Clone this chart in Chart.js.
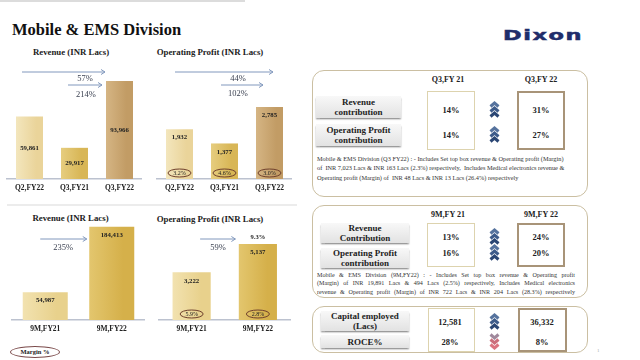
<!DOCTYPE html>
<html>
<head>
<meta charset="utf-8">
<script src="https://cdn.jsdelivr.net/npm/chart.js@4.4.1/dist/chart.umd.min.js"></script>
<style>
  body { margin: 0; background: #fff; }
  #page { position: relative; width: 640px; height: 360px; overflow: hidden; font-family: "Liberation Serif", serif; color: #222; }
  .abs { position: absolute; }
  .ttl { position: absolute; font-weight: bold; font-size: 8.8px; white-space: nowrap; transform: translate(-50%, -50%); color: #222; }
  .panel { position: absolute; border: 1.5px solid #cbbfa2; border-radius: 12px; box-sizing: border-box; }
  .lbl { position: absolute; box-sizing: border-box; background: linear-gradient(#f8f8f8, #e2e2e2); box-shadow: 0 1.5px 1.5px #9c9c9c; font-weight: bold; font-size: 9px; line-height: 10px; text-align: center; display: flex; flex-direction: column; justify-content: center; color: #222; }
  .vbox { position: absolute; box-sizing: border-box; }
  .old { border: 1.5px solid #ddd3ae; }
  .new { border: 2px solid #a89478; }
  .val { position: absolute; font-weight: bold; font-size: 8.5px; transform: translate(-50%, -50%); white-space: nowrap; }
  .head { position: absolute; font-weight: bold; font-size: 8px; transform: translate(-50%, -50%); white-space: nowrap; }
  .note { position: absolute; font-size: 6.3px; color: #333; white-space: nowrap; }
  .just { text-align: justify; text-align-last: justify; white-space: normal; font-size: 6.1px; }
</style>
</head>
<body>
<div id="page">
  <div class="abs" style="left:0;top:0;width:245px;height:2px;background:#dcdcdc"></div>
  <div class="abs" style="left:12px;top:20px;font-size:16.5px;font-weight:bold;color:#111;white-space:nowrap">Mobile &amp; EMS Division</div>
  <div class="abs" style="left:503px;top:27px;font-family:'DejaVu Sans',sans-serif;font-weight:bold;font-size:14.5px;letter-spacing:1px;color:#1f2d6b;transform:scaleX(1.55);transform-origin:left top;-webkit-text-stroke:0.5px #1f2d6b">Dixon</div>
  <div class="abs" style="left:7px;top:204px;width:290px;height:2px;background:#ececec"></div>

  <div class="ttl" style="left:71px;top:52px">Revenue (INR Lacs)</div>
  <div class="ttl" style="left:210px;top:52px">Operating Profit (INR Lacs)</div>
  <div class="ttl" style="left:70.5px;top:218px">Revenue (INR Lacs)</div>
  <div class="ttl" style="left:210px;top:219px">Operating Profit (INR Lacs)</div>

  <canvas id="c1" class="abs" width="142" height="140" style="left:0;top:60px"></canvas>
  <canvas id="c2" class="abs" width="142" height="140" style="left:150px;top:60px"></canvas>
  <canvas id="c3" class="abs" width="145" height="115" style="left:0;top:226px"></canvas>
  <canvas id="c4" class="abs" width="141" height="115" style="left:150px;top:226px"></canvas>

  <div class="abs" style="left:10px;top:346px;width:50px;height:12px;border:1px solid #7b4b4b;border-radius:50%;box-sizing:border-box;font-size:6.5px;font-weight:bold;text-align:center;line-height:10px">Margin %</div>
  <div class="abs" style="left:597px;top:348px;font-size:5px;color:#aaa">1</div>
</div>

<script>
// quarterly charts
const qLabels = ['Q2,FY22', 'Q3,FY21', 'Q3,FY22'];
const qRevenue = [59861, 29917, 93966];
const qOpProfit = [1932, 1377, 2785];
const qMargin = ['3.2%', '4.6%', '3.0%'];
const qRevGrowth = ['57%', '214%'];
const qOpGrowth = ['44%', '102%'];

// nine month charts
const nmLabels = ['9M,FY21', '9M,FY22'];
const nmRevenue = [54987, 184413];
const nmOpProfit = [3222, 5137];
const nmMargin = ['5.9%', '2.8%'];
const nmRevGrowth = '235%';
const nmOpGrowth = '59%';
const nmOpTopNote = '9.3%';

// contribution tables
const q3Head = ['Q3,FY 21', 'Q3,FY 22'];
const q3Rows = [['Revenue', 'contribution'], ['Operating Profit', 'contribution']];
const q3FY21 = ['14%', '14%'];
const q3FY22 = ['31%', '27%'];
const q3Note = [
    'Mobile & EMS Division (Q3 FY22) : - Includes Set top box revenue & Operating profit (Margin)',
    'of&nbsp; INR 7,023 Lacs & INR 163 Lacs (2.3%) respectively,&nbsp; Includes Medical electronics revenue &',
    'Operating profit (Margin) of&nbsp; INR 48 Lacs & INR 13 Lacs (26.4%) respectively'
];

const nmHead = ['9M,FY 21', '9M,FY 22'];
const nmRows = [['Revenue', 'Contribution'], ['Operating Profit', 'contribution']];
const nmFY21 = ['13%', '16%'];
const nmFY22 = ['24%', '20%'];
const nmNote = [
    'Mobile & EMS Division (9M,FY22) : - Includes Set top box revenue & Operating profit',
    '(Margin) of INR 19,891 Lacs & 494 Lacs (2.5%) respectively, Includes Medical electronics',
    'revenue & Operating profit (Margin) of INR 722 Lacs & INR 204 Lacs (28.3%) respectively'
];

const capRows = [['Capital employed', '(Lacs)'], ['ROCE%']];
const capFY21 = ['12,581', '28%'];
const capFY22 = ['36,332', '8%'];
const capTrend = ['up', 'down'];

const serif = '"Liberation Serif", serif';
const arrowColor = '#8198bd';

// soft left-to-right shading on each bar
function shaded(light, dark, barPct) {
    return function (c) {
        const chart = c.chart;
        const xs = chart.scales && chart.scales.x;
        if (!chart.chartArea || !xs) return dark[c.dataIndex];
        const x = xs.getPixelForValue(c.dataIndex);
        const w = chart.chartArea.width / chart.data.labels.length * barPct;
        const g = chart.ctx.createLinearGradient(x - w / 2, 0, x + w / 2, 0);
        g.addColorStop(0, light[c.dataIndex]);
        g.addColorStop(0.75, dark[c.dataIndex]);
        g.addColorStop(1, dark[c.dataIndex]);
        return g;
    };
}

const deco = {
    id: 'deco',
    afterDatasetsDraw(chart, args, opts) {
        const ctx = chart.ctx;
        const area = chart.chartArea;
        const bars = chart.getDatasetMeta(0).data;
        const values = chart.data.datasets[0].data;
        ctx.save();
        ctx.textAlign = 'center';
        ctx.textBaseline = 'middle';

        // values inside bars
        ctx.fillStyle = '#222';
        ctx.font = 'bold 6.8px ' + serif;
        bars.forEach((bar, i) => {
            const y = opts.valuePos === 'middle' ? (bar.y + bar.base) / 2 : bar.y + 8.5;
            ctx.fillText(values[i].toLocaleString('en-US'), bar.x, y);
        });

        // margin ovals
        (opts.margins || []).forEach((m, i) => {
            const bar = bars[i];
            const cy = bar.base - 6;
            ctx.beginPath();
            ctx.ellipse(bar.x, cy, 11.5, 4, 0, 0, Math.PI * 2);
            ctx.strokeStyle = '#6e3f2c';
            ctx.lineWidth = 1;
            ctx.stroke();
            ctx.font = '6px ' + serif;
            ctx.fillStyle = '#222';
            ctx.fillText(m, bar.x, cy + 0.5);
        });

        // growth arrows
        (opts.arrows || []).forEach(a => {
            const x0 = bars[a.from[0]].x + a.from[1];
            const x1 = bars[a.to[0]].x + a.to[1];
            const y = area.top + a.dy;
            ctx.strokeStyle = arrowColor;
            ctx.lineWidth = 1;
            ctx.beginPath();
            ctx.moveTo(x0, y);
            ctx.lineTo(x1, y);
            ctx.moveTo(x1 - 4, y - 2.5);
            ctx.lineTo(x1, y);
            ctx.lineTo(x1 - 4, y + 2.5);
            ctx.stroke();
            ctx.font = '8.5px ' + serif;
            ctx.fillStyle = '#3c4252';
            ctx.fillText(a.label, bars[a.at[0]].x + a.at[1], area.top + a.ldy);
        });

        if (opts.topNote) {
            const bar = bars[opts.topNote.bar];
            ctx.font = 'bold 6.5px ' + serif;
            ctx.fillStyle = '#222';
            ctx.fillText(opts.topNote.text, bar.x, bar.y - 7);
        }
        ctx.restore();
    }
};

function barChart(id, labels, values, light, dark, opt) {
    return new Chart(document.getElementById(id), {
        type: 'bar',
        data: {
            labels: labels,
            datasets: [{
                data: values,
                backgroundColor: shaded(light, dark, opt.barPct),
                barPercentage: opt.barPct,
                categoryPercentage: 1
            }]
        },
        options: {
            responsive: false,
            animation: false,
            layout: { padding: { left: opt.padLeft, right: 0, top: 0, bottom: 2 } },
            plugins: {
                legend: { display: false },
                tooltip: { enabled: false },
                deco: opt.deco
            },
            scales: {
                x: {
                    grid: { display: false, drawTicks: false },
                    border: { display: true, color: '#bcc2cf', width: 1.5 },
                    ticks: { color: '#222', padding: 5, font: { family: serif, size: 7.5, weight: 'bold' } }
                },
                y: { display: false, min: 0, max: opt.max }
            }
        },
        plugins: [deco]
    });
}

const qLight = ['#f3e6bd', '#e6cd7f', '#d5b584'];
const qDark = ['#ead49a', '#d8b656', '#c29c65'];
const nmLight = ['#f2e2b0', '#e3c66e'];
const nmDark = ['#e8d18c', '#d5b04a'];

barChart('c1', qLabels, qRevenue, qLight, qDark, {
    barPct: 0.6, padLeft: 7, max: 114200,
    deco: {
        valuePos: 'middle',
        arrows: [
            { from: [0, -7.5], to: [2, -14.5], dy: 12, label: qRevGrowth[0], at: [1, 10.5], ldy: 19 },
            { from: [1, -6.5], to: [2, -17.5], dy: 25, label: qRevGrowth[1], at: [1, 11.5], ldy: 35 }
        ]
    }
});

barChart('c2', qLabels, qOpProfit, qLight, qDark, {
    barPct: 0.6, padLeft: 7, max: 4610,
    deco: {
        valuePos: 'top',
        margins: qMargin,
        arrows: [
            { from: [0, -4.5], to: [2, 3.5], dy: 12, label: qOpGrowth[0], at: [1, 13.5], ldy: 19 },
            { from: [1, -3.5], to: [2, -6.5], dy: 25, label: qOpGrowth[1], at: [1, 13.5], ldy: 34 }
        ]
    }
});

barChart('c3', nmLabels, nmRevenue, nmLight, nmDark, {
    barPct: 0.677, padLeft: 12, max: 185700,
    deco: {
        valuePos: 'top',
        arrows: [
            { from: [0, -5], to: [1, -25], dy: 13, label: nmRevGrowth, at: [0, 18], ldy: 22 }
        ]
    }
});

barChart('c4', nmLabels, nmOpProfit, nmLight, nmDark, {
    barPct: 0.576, padLeft: 8.5, max: 6346,
    deco: {
        valuePos: 'top',
        margins: nmMargin,
        topNote: { bar: 1, text: nmOpTopNote },
        arrows: [
            { from: [0, 8.5], to: [1, -22.5], dy: 13, label: nmOpGrowth, at: [0, 26.5], ldy: 22 }
        ]
    }
});

// right hand tables
const page = document.getElementById('page');

function el(cls, style, html) {
    const d = document.createElement('div');
    d.className = cls;
    Object.assign(d.style, style);
    if (html !== undefined) d.innerHTML = html;
    page.appendChild(d);
    return d;
}

function chevrons(x, y, dir) {
    const up = dir === 'up';
    const cols = up ? ['#56739e', '#3d5b8a', '#2a4674'] : ['#a0889c', '#cc6e7b', '#dc7480'];
    let paths = '';
    for (let k = 0; k < 3; k++) {
        const o = k * 5;
        const pts = up ? `1.5,${o + 5.5} 5.5,${o + 2} 9.5,${o + 5.5}` : `1.5,${o + 1.5} 5.5,${o + 5} 9.5,${o + 1.5}`;
        paths += `<polyline points="${pts}" fill="none" stroke="${cols[k]}" stroke-width="3" stroke-linejoin="miter"/>`;
    }
    el('abs', { left: (x - 5.5) + 'px', top: (y - 9) + 'px' },
        `<svg width="11" height="18" viewBox="0 0 11 18">${paths}</svg>`);
}

function labelBox(x, y, w, h, lines) {
    el('lbl', { left: x + 'px', top: y + 'px', width: w + 'px', height: h + 'px' }, lines.join('<br>'));
}

// panel 1: Q3
el('panel', { left: '312px', top: '70px', width: '276px', height: '127px' });
q3Head.forEach((t, i) => el('head', { left: [448, 541][i] + 'px', top: '79px' }, t));
labelBox(316, 96, 85, 22, q3Rows[0]);
labelBox(316, 124, 85, 22, q3Rows[1]);
el('vbox old', { left: '427px', top: '91px', width: '48px', height: '59px' });
el('vbox new', { left: '517px', top: '91px', width: '48px', height: '59px' });
[110, 135].forEach((y, i) => {
    el('val', { left: '451px', top: y + 'px' }, q3FY21[i]);
    el('val', { left: '541px', top: y + 'px' }, q3FY22[i]);
    chevrons(494, y, 'up');
});
q3Note.forEach((line, i) => el('note', { left: '317px', top: (154.5 + i * 9.5) + 'px' }, line));

// panel 2: 9M
el('panel', { left: '312px', top: '205px', width: '276px', height: '93px' });
nmHead.forEach((t, i) => el('head', { left: [448, 541][i] + 'px', top: '214px' }, t));
labelBox(321, 223, 88, 20, nmRows[0]);
labelBox(321, 248, 88, 20, nmRows[1]);
el('vbox old', { left: '427px', top: '223px', width: '48px', height: '44px' });
el('vbox new', { left: '517px', top: '223px', width: '48px', height: '44px' });
[237, 253].forEach((y, i) => {
    el('val', { left: '451px', top: y + 'px' }, nmFY21[i]);
    el('val', { left: '541px', top: y + 'px' }, nmFY22[i]);
    chevrons(494, y, 'up');
});
nmNote.forEach((line, i) => el('note just', { left: '317px', top: (271.5 + i * 8.5) + 'px', width: '258px' }, line));

// panel 3: capital employed
el('panel', { left: '312px', top: '306px', width: '276px', height: '47px' });
labelBox(321, 311, 88, 20, capRows[0]);
labelBox(321, 335, 88, 13, capRows[1]);
el('vbox old', { left: '428px', top: '308px', width: '47px', height: '44px' });
el('vbox new', { left: '518px', top: '308px', width: '49px', height: '44px' });
[322, 342].forEach((y, i) => {
    el('val', { left: '450px', top: y + 'px' }, capFY21[i]);
    el('val', { left: '542px', top: y + 'px' }, capFY22[i]);
    chevrons(494, y, capTrend[i]);
});
</script>
</body>
</html>
